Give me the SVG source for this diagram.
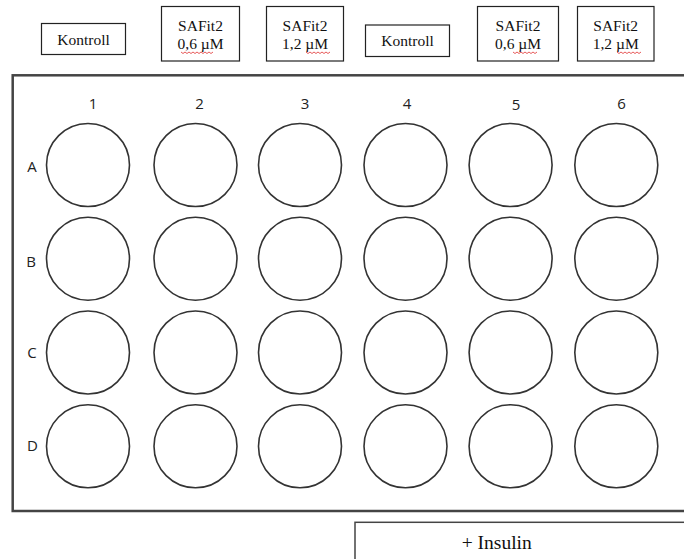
<svg xmlns="http://www.w3.org/2000/svg" width="684" height="559" viewBox="0 0 684 559">
<style>
.box{fill:#fff;stroke:#222;stroke-width:1.2}
.t{font-family:"Liberation Serif","Times New Roman",serif;font-size:15.5px;fill:#111;text-anchor:middle}
.lab{font-family:"Open Sans","DejaVu Sans",sans-serif;font-size:15px;fill:#222;text-anchor:middle}
.well{fill:#fff;stroke:#333;stroke-width:1.6}
.sq{fill:none;stroke:#e03030;stroke-width:0.8}
</style>
<rect width="684" height="559" fill="#fff"/>
<g id="labels-top">
<g id="k1"><rect class="box" x="41.5" y="23.5" width="84" height="31"/><text class="t" x="83.5" y="44.5">Kontroll</text></g>
<g id="s1"><rect class="box" x="161.5" y="6.5" width="78" height="54.5"/><text class="t" x="200.5" y="30.5">SAFit2</text><text class="t" x="200.5" y="48.5">0,6 µM</text><polyline class="sq" points="181,52 183,53.5 185,52 187,53.5 189,52 191,53.5 193,52 195,53.5 197,52 199,53.5 201,52 203,53.5 205,52 207,53.5 209,52 211,53.5 213,52"/></g>
<g id="s2"><rect class="box" x="266.5" y="6.5" width="77" height="54.5"/><text class="t" x="305" y="30.5">SAFit2</text><text class="t" x="305" y="48.5">1,2 µM</text><polyline class="sq" points="306,52 308,53.5 310,52 312,53.5 314,52 316,53.5 318,52 320,53.5 322,52 324,53.5 326,52 328,53.5 330,52"/></g>
<g id="k2"><rect class="box" x="365.5" y="25" width="84" height="31.5"/><text class="t" x="407.5" y="46">Kontroll</text></g>
<g id="s3"><rect class="box" x="477.5" y="6.5" width="81" height="54.5"/><text class="t" x="518" y="30.5">SAFit2</text><text class="t" x="518" y="48.5">0,6 µM</text><polyline class="sq" points="513,52 515,53.5 517,52 519,53.5 521,52 523,53.5 525,52 527,53.5 529,52 531,53.5 533,52 535,53.5 537,52"/></g>
<g id="s4"><rect class="box" x="577.5" y="6.5" width="76.5" height="54.5"/><text class="t" x="615.7" y="30.5">SAFit2</text><text class="t" x="615.7" y="48.5">1,2 µM</text><polyline class="sq" points="617,52 619,53.5 621,52 623,53.5 625,52 627,53.5 629,52 631,53.5 633,52 635,53.5 637,52 639,53.5 641,52"/></g>
</g>
<g id="plate">
<rect x="12.7" y="75.3" width="690" height="435.7" fill="#fff" stroke="#444" stroke-width="2.5"/>
<text class="lab" x="93" y="108.5">1</text>
<text class="lab" x="199.5" y="108.5">2</text>
<text class="lab" x="305" y="108.5">3</text>
<text class="lab" x="407" y="108.5">4</text>
<text class="lab" x="516" y="109.5">5</text>
<text class="lab" x="621.5" y="108.5">6</text>
<text class="lab" x="32" y="171.5">A</text>
<text class="lab" x="31" y="267">B</text>
<text class="lab" x="32" y="357.5">C</text>
<text class="lab" x="32.5" y="450.5">D</text>
</g>
<g id="wells">
<g id="rowA"><circle class="well" cx="88" cy="165" r="41.5"/><circle class="well" cx="195.5" cy="165" r="41.5"/><circle class="well" cx="300" cy="165" r="41.5"/><circle class="well" cx="405.5" cy="165" r="41.5"/><circle class="well" cx="510.6" cy="165" r="41.5"/><circle class="well" cx="616.3" cy="165" r="41.5"/></g>
<g id="rowB"><circle class="well" cx="88" cy="258.7" r="41.5"/><circle class="well" cx="195.5" cy="258.7" r="41.5"/><circle class="well" cx="300" cy="258.7" r="41.5"/><circle class="well" cx="405.5" cy="258.7" r="41.5"/><circle class="well" cx="510.6" cy="258.7" r="41.5"/><circle class="well" cx="616.3" cy="258.7" r="41.5"/></g>
<g id="rowC"><circle class="well" cx="88" cy="352.5" r="41.5"/><circle class="well" cx="195.5" cy="352.5" r="41.5"/><circle class="well" cx="300" cy="352.5" r="41.5"/><circle class="well" cx="405.5" cy="352.5" r="41.5"/><circle class="well" cx="510.6" cy="352.5" r="41.5"/><circle class="well" cx="616.3" cy="352.5" r="41.5"/></g>
<g id="rowD"><circle class="well" cx="88" cy="446.3" r="41.5"/><circle class="well" cx="195.5" cy="446.3" r="41.5"/><circle class="well" cx="300" cy="446.3" r="41.5"/><circle class="well" cx="405.5" cy="446.3" r="41.5"/><circle class="well" cx="510.6" cy="446.3" r="41.5"/><circle class="well" cx="616.3" cy="446.3" r="41.5"/></g>
</g>
<g id="insulin">
<rect x="355" y="522.3" width="340" height="50" fill="#fff" stroke="#444" stroke-width="1.5"/>
<text class="t" x="496.7" y="548.5" style="font-size:19.5px">+ Insulin</text>
</g>
<g id="connectors"></g>
</svg>
